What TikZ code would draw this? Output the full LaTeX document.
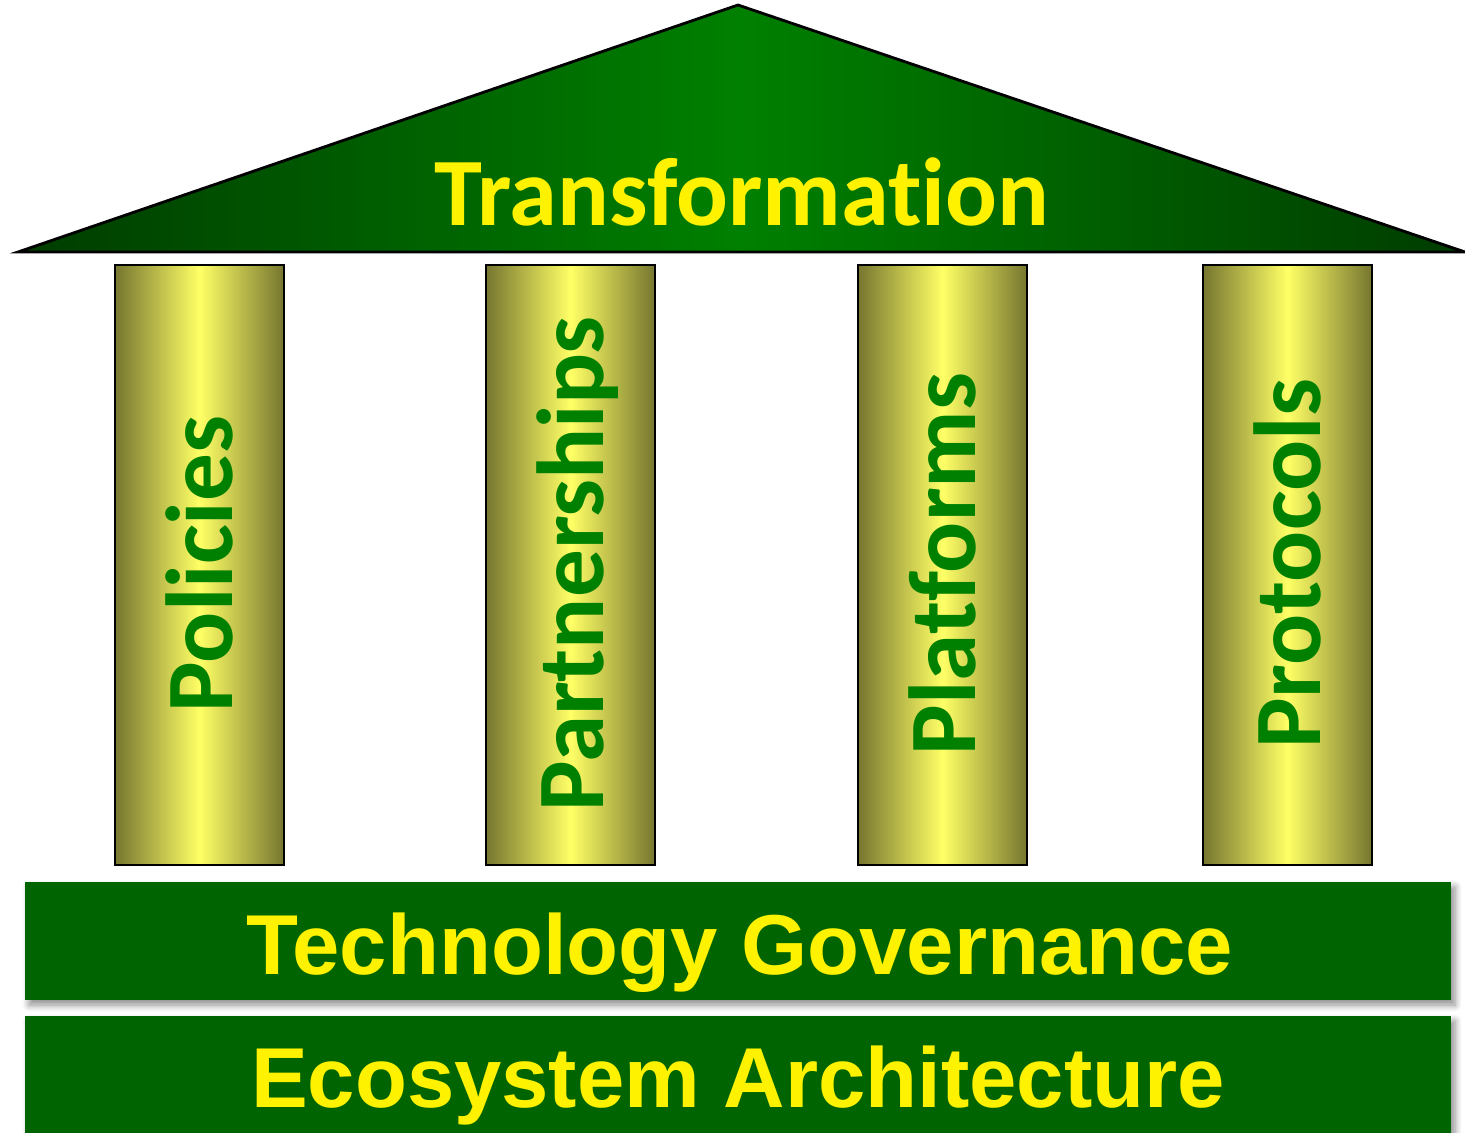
\documentclass[tikz,border=0pt]{standalone}
\usepackage{fontspec}
\setmainfont{Carlito}[Ligatures=NoCommon]
\newfontfamily\barfont{Liberation Sans}
\usetikzlibrary{shadows.blur}
\definecolor{roofdark}{RGB}{0,60,0}
\definecolor{roofmid}{RGB}{0,128,0}
\definecolor{barfill}{RGB}{0,100,0}
\definecolor{pilledge}{RGB}{118,118,48}
\definecolor{pillmid}{RGB}{255,255,102}
\definecolor{pilltext}{RGB}{0,128,0}

\begin{document}
\begin{tikzpicture}[x=0.1mm,y=0.1mm,
  roof/.style={draw=black, line width=0.8pt, line join=miter, left color=roofdark, right color=roofdark, middle color=roofmid},
  pillar/.style={draw=black, line width=0.6pt, inner sep=0pt, minimum width=16.9mm, minimum height=60mm, left color=pilledge, right color=pilledge, middle color=pillmid},
  pilllabel/.style={rotate=90, anchor=base, inner sep=0pt, text=pilltext, font=\fontsize{27.1}{30}\selectfont\bfseries},
  bar/.style={fill=barfill, inner sep=0pt, minimum width=142.6mm, minimum height=11.8mm, blur shadow={shadow xshift=0.4mm, shadow yshift=-0.5mm, shadow blur steps=6, shadow opacity=45}},
  barlabel/.style={anchor=base, inner sep=0pt, text=yellow, font=\barfont\bfseries\fontsize{24.2}{29}\selectfont}]
\useasboundingbox (0,0) rectangle (1465,1132);

\coordinate (eaveL) at (18,880);
\coordinate (apex) at (738,1127);
\coordinate (eaveR) at (1465,880);
\path [roof] (eaveL) -- (apex) -- (eaveR) -- cycle;
\node [anchor=base, inner sep=0pt, text=yellow, font=\fontsize{27.5}{32}\selectfont\bfseries] (transf) at (742,907) {Transformation};

\foreach \x/\name/\txt in {199.5/pol/Policies, 570.5/part/Partnerships, 942.5/plat/Platforms, 1287.5/prot/Protocols} {
  \node [pillar] (\name) at (\x,567) {};
  \node [pilllabel] (\name-txt) at (\x+33,568) {\txt};
}

\node [bar] (tech) at (738,191) {};
\node [barlabel] (tech-txt) at (740,158) {Technology Governance};
\node [bar, minimum height=12.6mm] (eco) at (738,53) {};
\node [barlabel] (eco-txt) at (738,25) {Ecosystem Architecture};

\end{tikzpicture}
\end{document}
